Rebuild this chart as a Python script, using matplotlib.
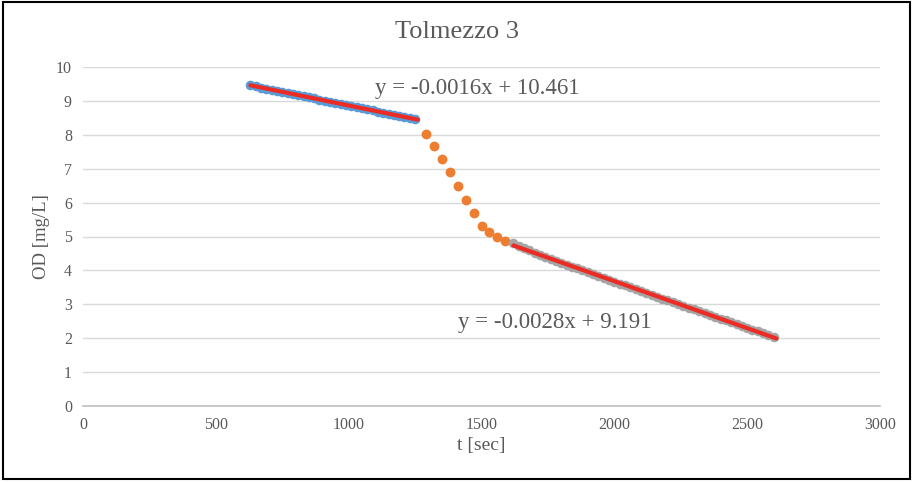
import numpy as np
import matplotlib
matplotlib.use("Agg")
import matplotlib.pyplot as plt
from matplotlib.patches import Rectangle

# ---- data ----
t_blue = list(range(630, 1251, 20))
od_blue = [9.46, 9.43, 9.39, 9.36, 9.33, 9.30, 9.27, 9.24, 9.20, 9.17,
           9.14, 9.11, 9.08, 9.04, 9.01, 8.98, 8.95, 8.91, 8.88, 8.85,
           8.82, 8.78, 8.75, 8.72, 8.68, 8.65, 8.62, 8.59, 8.56, 8.53,
           8.50, 8.47]

t_orange = list(range(1290, 1591, 30))
od_orange = [8.01, 7.68, 7.30, 6.91, 6.49, 6.09, 5.69, 5.32, 5.13, 4.99, 4.87]

t_gray = list(range(1620, 2601, 20))
od_gray = [4.81, 4.73, 4.66, 4.59, 4.52, 4.45, 4.39, 4.34, 4.28, 4.23,
           4.17, 4.11, 4.06, 4.00, 3.95, 3.89, 3.84, 3.78, 3.73, 3.67,
           3.61, 3.56, 3.50, 3.45, 3.39, 3.34, 3.28, 3.23, 3.17, 3.12,
           3.07, 3.01, 2.96, 2.90, 2.85, 2.79, 2.74, 2.68, 2.63, 2.57,
           2.53, 2.47, 2.42, 2.36, 2.31, 2.25, 2.20, 2.14, 2.09, 2.04]

eq1 = "y = -0.0016x + 10.461"
eq2 = "y = -0.0028x + 9.191"
title = "Tolmezzo 3"
xlabel = "t [sec]"
ylabel = "OD [mg/L]"

FONT = "Liberation Serif"
TXT = "#595959"

fig = plt.figure(figsize=(9.14, 4.83), dpi=100)
ax = fig.add_axes([83/914, 1-406/483, (880-83)/914, (406-67)/483])

ax.scatter(t_blue, od_blue, s=48, color="#5b9bd5", zorder=3, linewidths=0)
ax.scatter(t_orange, od_orange, s=50, color="#ed7d31", zorder=3, linewidths=0)
ax.scatter(t_gray, od_gray, s=48, color="#a5a5a5", zorder=3, linewidths=0)

for tt, yy in ((t_blue, od_blue), (t_gray, od_gray)):
    p = np.polyfit(tt, yy, 1)
    xs = np.array([min(tt), max(tt) + 10])
    ax.plot(xs, np.polyval(p, xs), color="#ec2b25", lw=3.0, zorder=4,
            solid_capstyle="round")

ax.set_xlim(0, 3000)
ax.set_ylim(0, 10)
ax.set_xticks(range(0, 3001, 500))
ax.set_yticks(range(0, 11, 1))
ax.grid(axis="y", color="#d9d9d9", lw=1)
ax.set_axisbelow(True)
for s in ("left", "right", "top"):
    ax.spines[s].set_visible(False)
ax.spines["bottom"].set_color("#bfbfbf")
ax.spines["bottom"].set_linewidth(1.2)
ax.tick_params(length=0, colors=TXT, labelsize=11.5, pad=8)
for lab in ax.get_xticklabels() + ax.get_yticklabels():
    lab.set_fontfamily(FONT)

ax.set_xlabel(xlabel, fontsize=14, color=TXT, family=FONT, labelpad=3)
ax.set_ylabel(ylabel, fontsize=13.5, color=TXT, family=FONT, labelpad=4)

ax.text(1099, 9.38, eq1, fontsize=16.5, color=TXT, family=FONT, va="center", ha="left")
ax.text(1411, 2.45, eq2, fontsize=16.5, color=TXT, family=FONT, va="center", ha="left")

fig.text(0.5, 1-32/483, title, ha="center", va="center", fontsize=19,
         color=TXT, family=FONT)

fig.patches.append(Rectangle((3/914, 4/483), 907/914, 477/483,
                             transform=fig.transFigure, fill=False,
                             edgecolor="black", lw=1.5))

fig.savefig("out.png", dpi=100)
